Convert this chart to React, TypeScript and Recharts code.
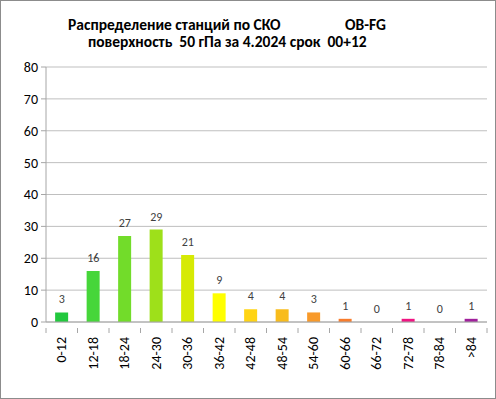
import React from 'react';
import { ComposedChart, Bar, Line, XAxis, YAxis, CartesianGrid, Cell, LabelList } from 'recharts';

const categories = ['0-12', '12-18', '18-24', '24-30', '30-36', '36-42', '42-48', '48-54', '54-60', '60-66', '66-72', '72-78', '78-84', '>84'];
const counts = [3, 16, 27, 29, 21, 9, 4, 4, 3, 1, 0, 1, 0, 1];
const barColors = ['#22c83e', '#46d63a', '#72dc2a', '#9ee01a', '#d6ea04', '#ffff00', '#ffd414', '#f8bc1c', '#f89a2a', '#f87c2c', '#f06040', '#f01482', '#c01890', '#a0209c'];
const yTicks = [0, 10, 20, 30, 40, 50, 60, 70, 80];
const titleLine1 = 'Распределение станций по СКО';
const titleTag = 'OB-FG';
const titleLine2 = 'поверхность  50 гПа за 4.2024 срок  00+12';

const data = categories.map((c, i) => ({ name: c, value: counts[i] }));

const FONT = 'Carlito, Calibri, "Open Sans", "Noto Sans", sans-serif';

const XTick = (props: any) => {
  const { x, y, payload, index } = props;
  const half = 15.75;
  return (
    <g>
      <line x1={x - half} y1={y - 8} x2={x - half} y2={y - 3} stroke="#a6a6a6" />
      {index === categories.length - 1 && (
        <line x1={x + half} y1={y - 8} x2={x + half} y2={y - 3} stroke="#a6a6a6" />
      )}
      <text
        x={x}
        y={y}
        transform={`rotate(-90, ${x}, ${y})`}
        textAnchor="end"
        dominantBaseline="central"
        fontSize={14}
        fill="#000"
        fontFamily={FONT}
        dx={-1}
      >
        {payload.value}
      </text>
    </g>
  );
};

const titleStyle: React.CSSProperties = {
  position: 'absolute',
  fontWeight: 'bold',
  fontSize: 15.5,
  whiteSpace: 'pre',
  color: '#000',
  lineHeight: '18px',
};

export default function App() {
  return (
    <div style={{ position: 'absolute', left: 0, top: 0, width: 496, height: 399, background: '#fff', fontFamily: FONT }}>
      <div style={{ position: 'absolute', left: 0, top: 0, width: 494, height: 397, border: '1px solid #8c8c8c' }} />
      <div style={{ ...titleStyle, left: 68, top: 16 }}>{titleLine1}</div>
      <div style={{ ...titleStyle, left: 345, top: 16 }}>{titleTag}</div>
      <div style={{ ...titleStyle, left: 88, top: 33 }}>{titleLine2}</div>
      <div style={{ position: 'absolute', left: 0, top: 0 }}>
        <ComposedChart
          width={496}
          height={399}
          data={data}
          margin={{ top: 67, right: 9, bottom: 0, left: 0 }}
          barCategoryGap="29%"
        >
          <CartesianGrid vertical={false} stroke="#bfbfbf" />
          <XAxis
            dataKey="name"
            interval={0}
            height={77}
            tickLine={false}
            stroke="#a6a6a6"
            tick={<XTick />}
            tickMargin={8}
          />
          <YAxis
            domain={[0, 80]}
            ticks={yTicks}
            width={46}
            stroke="#a6a6a6"
            tickSize={5}
            tick={{ fontSize: 14, fill: '#000', fontFamily: FONT }}
            tickMargin={3}
            interval={0}
          />
          <Bar dataKey="value" isAnimationActive={false}>
            {data.map((d, i) => (
              <Cell key={d.name} fill={barColors[i]} />
            ))}
          </Bar>
          <Line
            dataKey="value"
            stroke="none"
            dot={false}
            activeDot={false}
            legendType="none"
            isAnimationActive={false}
          >
            <LabelList dataKey="value" position="top" offset={9} fontSize={12} fill="#404040" stroke="none" fontFamily={FONT} />
          </Line>
        </ComposedChart>
      </div>
    </div>
  );
}
